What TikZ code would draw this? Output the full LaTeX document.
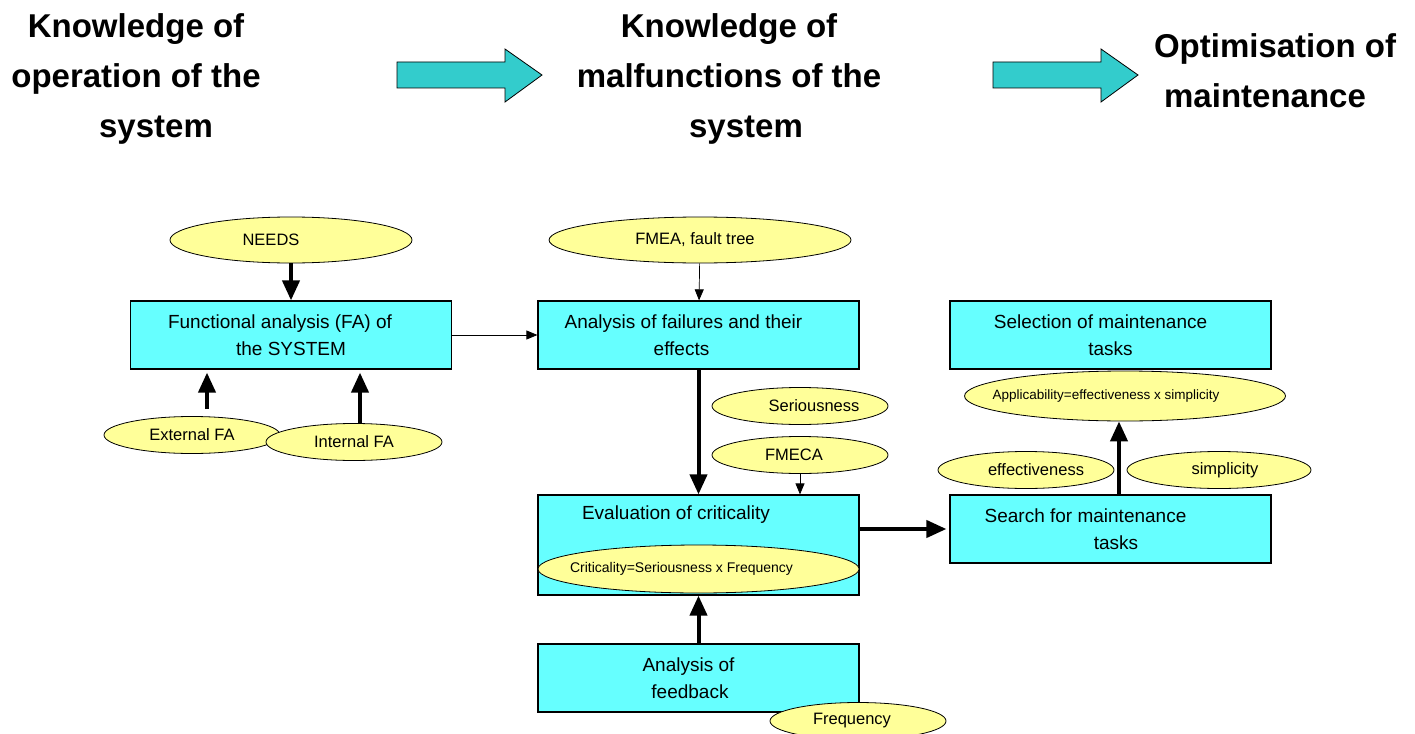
\documentclass[tikz,border=0pt]{standalone}
\usepackage{fontspec}
\setmainfont{Liberation Sans}
\usetikzlibrary{shapes.geometric,arrows.meta,positioning}
\definecolor{boxcyan}{HTML}{66FFFF}
\definecolor{ovalyellow}{HTML}{FFFF99}
\definecolor{flowteal}{HTML}{33CCCC}
\tikzset{
  box/.style={rectangle,draw=black,fill=boxcyan,line width=1.2pt,minimum width=321pt,minimum height=68pt,inner sep=0pt,align=center,font=\fontsize{19}{27}\selectfont},
  oval/.style={ellipse,draw=black,fill=ovalyellow,line width=0.8pt,minimum width=176pt,minimum height=37pt,inner sep=0pt,font=\fontsize{16.5}{20}\selectfont},
  heading/.style={align=center,font=\fontsize{33}{50}\selectfont\bfseries},
  bigarr/.style={-{Triangle[length=20pt,width=17pt]},line width=4pt},
  thinarr/.style={-{Triangle[length=11pt,width=9pt]},line width=0.7pt},
  flow/.style={draw=black,fill=flowteal,line width=0.8pt}
}
\newcommand{\pad}[1]{\hspace*{#1pt}}
% text moved sideways by #1 inside an oval, oval size untouched
\newcommand{\nudge}[2]{\makebox[0pt]{\hspace*{#1pt}\hspace*{#1pt}#2}}

\begin{document}
\begin{tikzpicture}[x=1pt,y=-1pt]
\useasboundingbox (0,0) rectangle (1415,733);
% headings and block arrows
\node[heading] (opknow) at (136,79) {Knowledge of\\operation of the\\\pad{40}system};
\node[heading] (malknow) at (729,79) {Knowledge of\\malfunctions of the\\\pad{34}system};
\node[heading] (optim) at (1275,71) {Optimisation of\\maintenance\pad{20}};
\foreach \x in {397,993}{\draw[flow] (\x,62)--(\x+108,62)--(\x+108,49)--(\x+145,75)--(\x+108,102)--(\x+108,88)--(\x,88)--cycle;}
% boxes
\node[box] (fa) at (291,335) {Functional analysis (FA) of\pad{22}\\the SYSTEM};
\node[box] (fail) at (698.5,335) {Analysis of failures and their\pad{30}\\effects\pad{34}};
\node[box,minimum height=100pt] (crit) at (698.5,545) {};
\node[font=\fontsize{19}{27}\selectfont] (crittitle) at (676,515) {Evaluation of criticality};
\node[box] (feed) at (698.5,678) {Analysis of\pad{20}\\feedback\pad{17}};
\node[box] (select) at (1110.5,335) {Selection of maintenance\pad{20}\\tasks};
\node[box] (search) at (1110.5,529) {Search for maintenance\pad{50}\\\pad{11}tasks};
% ovals
\node[oval,minimum width=242pt,minimum height=46pt] (needs) at (291,240) {\nudge{-20}{NEEDS}};
\node[oval] (extfa) at (192,435) {External FA};
\node[oval] (intfa) at (354,442) {Internal FA};
\node[oval,minimum width=302pt,minimum height=46pt] (fmea) at (700,240) {\nudge{-5}{FMEA, fault tree}};
\node[oval] (serious) at (800,406) {\nudge{14}{Seriousness}};
\node[oval] (fmeca) at (800,455) {\nudge{-6}{FMECA}};
\node[oval,minimum width=321pt,minimum height=48pt,font=\fontsize{14}{17}\selectfont] (critform) at (698.5,569) {\nudge{-17}{Criticality=Seriousness x Frequency}};
\node[oval] (freq) at (858,721) {\nudge{-6}{Frequency}};
\node[oval,minimum width=321pt,minimum height=50pt,font=\fontsize{13.5}{16}\selectfont] (applic) at (1125,396) {\nudge{-19}{Applicability=effectiveness x simplicity}};
\node[oval] (effect) at (1026,470) {\nudge{10}{effectiveness}};
\node[oval,minimum width=184pt] (simpl) at (1219,470) {\nudge{6}{simplicity}};
% connectors
\coordinate (extfoot) at (207,409);
\coordinate (intfoot) at (360,424);
\draw[bigarr] (needs) -- (fa);
\draw[bigarr,shorten >=3pt] (extfoot) -- (extfoot |- fa.south);
\draw[bigarr,shorten >=3pt] (intfoot) -- (intfoot |- fa.south);
\draw[thinarr] (fa) -- (fail);
\draw[thinarr] (fmea) -- (fail);
\draw[bigarr] (fail) -- (crit);
\draw[thinarr] (fmeca) -- (fmeca |- crit.north);
\draw[bigarr,shorten >=3pt] (crit.east |- search) -- (search.west);
\draw[bigarr] (feed) -- (crit);
\draw[bigarr] ([xshift=8.5pt]search.north) -- ([xshift=8.5pt]search.north |- applic.south);
\end{tikzpicture}
\end{document}
